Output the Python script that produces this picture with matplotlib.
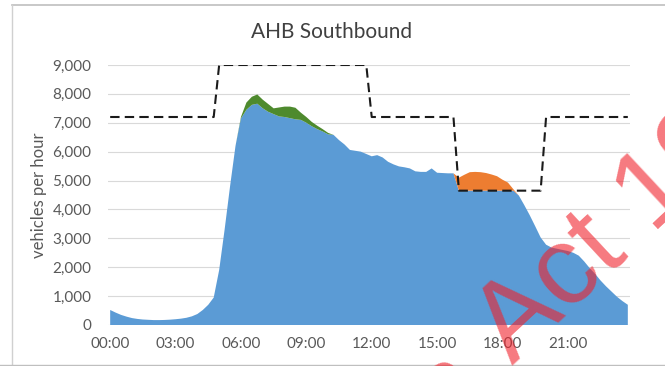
import numpy as np
import matplotlib
matplotlib.use('Agg')
import matplotlib.pyplot as plt
from matplotlib.lines import Line2D

plt.rcParams['font.family'] = ['Lato', 'DejaVu Sans']

# 15-minute intervals, 00:00 .. 23:45
times = ['%02d:%02d' % (h, m) for h in range(24) for m in (0, 15, 30, 45)]
tick_labels = ['00:00', '03:00', '06:00', '09:00', '12:00', '15:00', '18:00', '21:00']

# served flow (blue)
flow = [520, 430, 350, 290, 240, 210, 190, 180, 170, 170, 175, 185,
        200, 220, 250, 300, 380, 520, 700, 950, 1900, 3300, 4800, 6200,
        7150, 7450, 7620, 7660, 7500, 7380, 7300, 7220, 7200, 7160, 7120, 7100,
        7000, 6880, 6780, 6700, 6600, 6580, 6400, 6250, 6060, 6030, 6000, 5920,
        5840, 5880, 5800, 5650, 5560, 5490, 5460, 5420, 5320, 5300, 5300, 5420,
        5270, 5260, 5250, 5250, 4650, 4650, 4650, 4650, 4650, 4650, 4650, 4650,
        4650, 4650, 4650, 4480, 4150, 3800, 3420, 3030, 2780, 2680, 2640, 2600,
        2560, 2500, 2400, 2200, 1970, 1770, 1540, 1340, 1160, 980, 830, 700]

# extra morning flow (green)
extra_am = [0] * 24 + [50, 250, 280, 320, 300, 270, 200, 310, 360, 400, 400, 250,
                       200, 150, 120, 80, 50, 0] + [0] * 54

# demand over the reduced capacity (orange)
excess_pm = [0] * 64 + [450, 550, 640, 650, 640, 610, 560, 500, 380, 280, 50] + [0] * 21

# capacity (dashed)
capacity = [7200] * 20 + [9000] * 28 + [7200] * 16 + [4650] * 16 + [7200] * 16

x = np.arange(len(times))
flow = np.array(flow)
extra_am = np.array(extra_am)
excess_pm = np.array(excess_pm)

fig = plt.figure(figsize=(6.65, 3.66), dpi=100)
ax = fig.add_axes([108 / 665, 1 - 325 / 366, 522 / 665, 260 / 366])

ax.stackplot(x, flow, extra_am, excess_pm,
             colors=['#5B9BD5', '#4E8A2E', '#ED7D31'], linewidth=0, zorder=2)
ax.plot(x, capacity, color='#1a1a1a', lw=1.5, dashes=(4.5, 2.5), zorder=3)

ax.set_xlim(-0.4, 95.4)
ax.set_ylim(0, 9000)
ax.set_yticks(np.arange(0, 9001, 1000))
ax.set_yticklabels(['{:,}'.format(v) for v in range(0, 9001, 1000)])
ax.set_xticks(x[::12])
ax.set_xticklabels(tick_labels)
ax.grid(axis='y', color='#D9D9D9', lw=0.8, zorder=0)
for s in ax.spines.values():
    s.set_visible(False)
ax.tick_params(length=0, colors='#595959', labelsize=11)
ax.tick_params(axis='y', pad=12)
ax.tick_params(axis='x', pad=9)
ax.set_ylabel('vehicles per hour', color='#595959', fontsize=12, labelpad=4)

fig.text(332 / 665, 1 - 32 / 366, 'AHB Southbound', color='#404040', fontsize=15,
         ha='center', va='center')

# chart frame
fig.add_artist(Line2D([12 / 665, 1], [1 - 5 / 366] * 2, color='#BFBFBF', lw=1.2))
fig.add_artist(Line2D([12 / 665] * 2, [0, 1 - 5 / 366], color='#D0D0D0', lw=1))
fig.add_artist(Line2D([0, 1], [1 / 366] * 2, color='#BFBFBF', lw=1))

# watermark
wm = dict(fontsize=80, color='#F0202A', alpha=0.6, rotation=43,
          rotation_mode='anchor', va='baseline', family='Liberation Sans', zorder=10)
fig.text(490 / 665, 1 - 387 / 366, 'Information', ha='right', **wm)
fig.text(512 / 665, 1 - 365 / 366, 'Act 1982', ha='left', **wm)

fig.savefig('out.png', dpi=100)
